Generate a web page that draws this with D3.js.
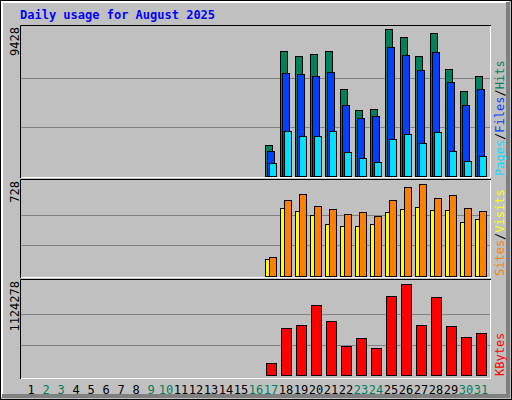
<!DOCTYPE html><html><head><meta charset="utf-8">
<script src="https://cdn.jsdelivr.net/npm/d3@7"></script>
<style>body{margin:0;background:#fff}text{font-family:"DejaVu Sans Mono",monospace}</style></head><body>
<svg id="c" width="512" height="400"></svg>
<script>
const days = d3.range(1, 32);
const weekend = [2,3,9,10,16,17,23,24,30,31];
const activeDays = [17,18,19,20,21,22,23,24,25,26,27,28,29,30,31];
const hits  = [1988,8017,7697,7825,8017,5580,4233,4297,9428,8915,7697,9172,6863,5452,6414];
const files = [1603,6606,6542,6414,6670,4554,3720,3848,8274,7761,6799,7953,6029,4554,5580];
const pages = [812,2886,2566,2566,2886,1539,1155,898,2373,2694,2117,2822,1603,962,1283];
const visits = [135,538,514,483,412,396,396,412,506,530,546,522,522,427,451];
const sites  = [150,601,649,554,530,491,506,475,601,704,728,617,641,538,514];
const kbytes = [148000,580600,617700,864800,667000,358000,457000,333600,976000,1124278,617700,963600,605000,469000,519000];
const maxTop = 9428, maxMid = 728, maxBot = 1124278;

const svg = d3.select("#c");
svg.append("rect").attr("x",0).attr("y",0).attr("width",512).attr("height",400).attr("fill","#c0c0c0");
// outer 3D frame
svg.append("rect").attr("x",0.5).attr("y",0.5).attr("width",511).attr("height",399).attr("fill","none").attr("stroke","#000");
svg.append("path").attr("d","M2,397V2H509").attr("fill","none").attr("stroke","#fff").attr("stroke-width",2);
svg.append("path").attr("d","M2,396H508V2").attr("fill","none").attr("stroke","#808080").attr("stroke-width",4);

svg.append("text").attr("x",20).attr("y",19).attr("fill","#0000ff").attr("font-weight","bold").attr("font-size",12).text("Daily usage for August 2025");

const x = d3.scaleLinear().domain([17,18]).range([265,280]);

function panel(y0,y1,yb,yt,max,label){
  svg.append("rect").attr("x",20).attr("y",y0).attr("width",471).attr("height",y1-y0).attr("fill","#c0c0c0");
  const y = d3.scaleLinear().domain([0,max]).range([yb,yt]);
  [max/3,2*max/3].forEach(v=>svg.append("line").attr("x1",21).attr("x2",490).attr("y1",Math.round(y(v))+0.5).attr("y2",Math.round(y(v))+0.5).attr("stroke","#808080"));
  svg.append("path").attr("d",`M${20.5},${y1}V${y0+0.5}H491`).attr("fill","none").attr("stroke","#000");
  svg.append("path").attr("d",`M21,${y1-0.5}H${490.5}V${y0+1}`).attr("fill","none").attr("stroke","#fff");
  svg.append("text").attr("transform",`translate(19,${y0+2}) rotate(-90)`).attr("text-anchor","end").attr("font-size",12).text(label);
  return y;
}
function bars(y,vals,dx,w,color){
  svg.append("g").selectAll("rect").data(vals).join("rect")
    .attr("x",(d,i)=>x(activeDays[i])+dx+0.5).attr("y",d=>Math.round(y(d))+0.5)
    .attr("width",w).attr("height",d=>y(0)-Math.round(y(d)))
    .attr("fill",color).attr("stroke","#000");
}
const y1 = panel(25,178,176,29,maxTop,"9428");
bars(y1,hits,0,7,"#00805c");
bars(y1,files,2,7,"#0040ff");
bars(y1,pages,4,7,"#00e0ff");
const y2 = panel(179,278,276,184,maxMid,"728");
bars(y2,visits,0,4,"#ffff00");
bars(y2,sites,4,7,"#ff8000");
const y3 = panel(279,379,375,284,maxBot,"1124278");
bars(y3,kbytes,1,10,"#ff0000");

svg.append("g").selectAll("text").data(days).join("text")
  .attr("x",d=>16+15*d).attr("y",394).attr("text-anchor","middle").attr("font-size",12)
  .attr("fill",d=>weekend.includes(d)?"#00805c":"#000").text(d=>d);

function legend(yEnd,parts){
  const t = svg.append("text").attr("transform",`translate(504,${yEnd}) rotate(-90)`).attr("font-size",12);
  parts.forEach(([s,c])=>t.append("tspan").attr("fill",c).text(s));
}
legend(176,[["Pages","#00e0ff"],["/","#000"],["Files","#0040ff"],["/","#000"],["Hits","#00805c"]]);
legend(276,[["Sites","#ff8000"],["/","#000"],["Visits","#ffff00"]]);
legend(376,[["KBytes","#ff0000"]]);
</script></body></html>
